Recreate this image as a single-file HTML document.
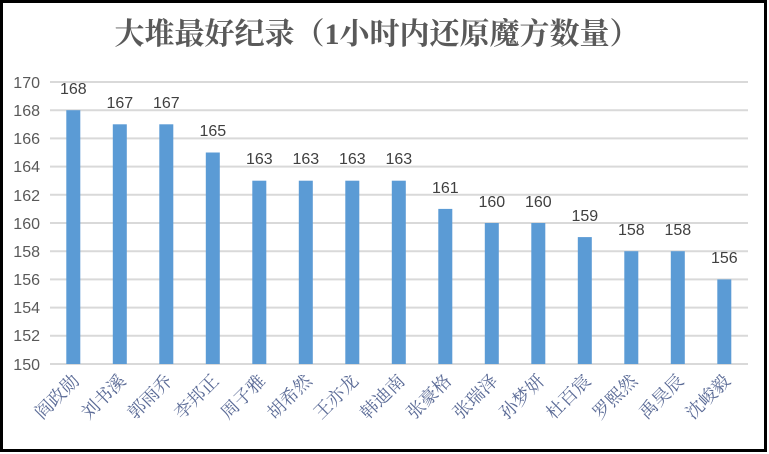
<!DOCTYPE html>
<html><head><meta charset="utf-8"><style>
html,body{margin:0;padding:0;background:#fff}
svg{display:block}
</style></head><body>
<svg width="769" height="454" xmlns="http://www.w3.org/2000/svg">
<rect x="0" y="0" width="769" height="454" fill="#fff"/>
<rect x="1.5" y="1.5" width="764" height="449" fill="none" stroke="#000" stroke-width="3"/>
<text x="377" y="44" text-anchor="middle" font-family="'Liberation Serif','Noto Serif CJK SC',serif" font-size="30" font-weight="bold" fill="#595959">大堆最好纪录（1小时内还原魔方数量）</text>
<g stroke="#d9d9d9" stroke-width="2">
<line x1="50" x2="748" y1="82" y2="82"/><line x1="50" x2="748" y1="110.2" y2="110.2"/><line x1="50" x2="748" y1="138.4" y2="138.4"/><line x1="50" x2="748" y1="166.6" y2="166.6"/><line x1="50" x2="748" y1="194.8" y2="194.8"/><line x1="50" x2="748" y1="223" y2="223"/><line x1="50" x2="748" y1="251.2" y2="251.2"/><line x1="50" x2="748" y1="279.4" y2="279.4"/><line x1="50" x2="748" y1="307.6" y2="307.6"/><line x1="50" x2="748" y1="335.8" y2="335.8"/><line x1="50" x2="748" y1="364" y2="364"/>
</g>
<g font-family="'Liberation Sans',sans-serif" font-size="16" fill="#595959" text-anchor="end">
<text x="40" y="88">170</text><text x="40" y="116">168</text><text x="40" y="144">166</text><text x="40" y="172">164</text><text x="40" y="201">162</text><text x="40" y="229">160</text><text x="40" y="257">158</text><text x="40" y="285">156</text><text x="40" y="313">154</text><text x="40" y="341">152</text><text x="40" y="370">150</text>
</g>
<g fill="#5b9bd5">
<rect x="66.3" y="110.2" width="14" height="253.8"/>
<rect x="112.8" y="124.3" width="14" height="239.7"/>
<rect x="159.3" y="124.3" width="14" height="239.7"/>
<rect x="205.8" y="152.5" width="14" height="211.5"/>
<rect x="252.3" y="180.7" width="14" height="183.3"/>
<rect x="298.8" y="180.7" width="14" height="183.3"/>
<rect x="345.3" y="180.7" width="14" height="183.3"/>
<rect x="391.8" y="180.7" width="14" height="183.3"/>
<rect x="438.3" y="208.9" width="14" height="155.1"/>
<rect x="484.8" y="223" width="14" height="141"/>
<rect x="531.3" y="223" width="14" height="141"/>
<rect x="577.8" y="237.1" width="14" height="126.9"/>
<rect x="624.3" y="251.2" width="14" height="112.8"/>
<rect x="670.8" y="251.2" width="14" height="112.8"/>
<rect x="717.3" y="279.4" width="14" height="84.6"/>
</g>
<g font-family="'Liberation Sans',sans-serif" font-size="16" fill="#404040" text-anchor="middle">
<text x="73.3" y="94">168</text>
<text x="119.8" y="108">167</text>
<text x="166.3" y="108">167</text>
<text x="212.8" y="136">165</text>
<text x="259.3" y="164">163</text>
<text x="305.8" y="164">163</text>
<text x="352.3" y="164">163</text>
<text x="398.8" y="164">163</text>
<text x="445.3" y="193">161</text>
<text x="491.8" y="207">160</text>
<text x="538.3" y="207">160</text>
<text x="584.8" y="221">159</text>
<text x="631.3" y="235">158</text>
<text x="677.8" y="235">158</text>
<text x="724.3" y="263">156</text>
</g>
<g font-family="'Noto Serif CJK SC',serif" font-size="18" fill="#5a6a96" text-anchor="end">
<text transform="translate(80.3,382) rotate(-45)">阎政勋</text>
<text transform="translate(126.8,382) rotate(-45)">刘书溪</text>
<text transform="translate(173.3,382) rotate(-45)">郭雨乔</text>
<text transform="translate(219.8,382) rotate(-45)">李邦正</text>
<text transform="translate(266.3,382) rotate(-45)">周子雅</text>
<text transform="translate(312.8,382) rotate(-45)">胡希然</text>
<text transform="translate(359.3,382) rotate(-45)">王亦龙</text>
<text transform="translate(405.8,382) rotate(-45)">韩迪南</text>
<text transform="translate(452.3,382) rotate(-45)">张豪格</text>
<text transform="translate(498.8,382) rotate(-45)">张瑞泽</text>
<text transform="translate(545.3,382) rotate(-45)">孙梦妍</text>
<text transform="translate(591.8,382) rotate(-45)">杜百宸</text>
<text transform="translate(638.3,382) rotate(-45)">罗熙然</text>
<text transform="translate(684.8,382) rotate(-45)">禹昊辰</text>
<text transform="translate(731.3,382) rotate(-45)">沈峻毅</text>
</g>
</svg>
</body></html>
